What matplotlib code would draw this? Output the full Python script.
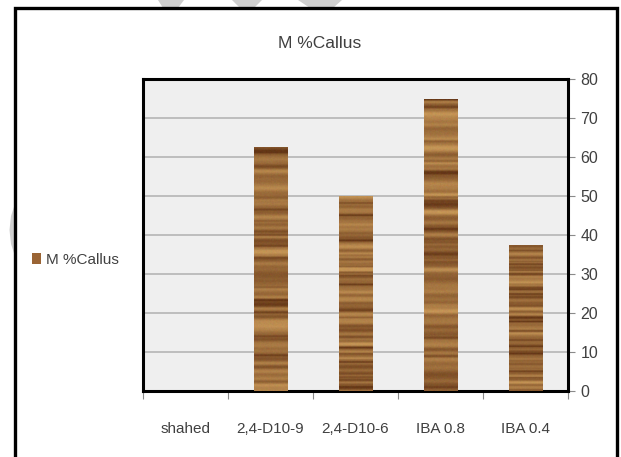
import numpy as np
import matplotlib.pyplot as plt
from matplotlib.patches import Rectangle, Patch, Polygon

plt.rcParams['font.family'] = ['Liberation Sans', 'DejaVu Sans']

categories = ['shahed', '2,4-D10-9', '2,4-D10-6', 'IBA 0.8', 'IBA 0.4']
callus = [0, 62.5, 50, 75, 37.5]
yticks = [0, 10, 20, 30, 40, 50, 60, 70, 80]
series_name = 'M %Callus'

text_col = '#404040'
W, H = 621, 457


def wood_texture(rng, rows=320, cols=40):
    # horizontal grain: smoothed noise per row with a few dark rings
    base = rng.normal(0, 1, rows + 40)
    kern = np.exp(-0.5 * (np.arange(-6, 7) / 2.0) ** 2)
    grain = np.convolve(base, kern / kern.sum(), mode='same')[20:20 + rows]
    grain = grain / grain.std()
    dark = (rng.random(rows) < 0.05).astype(float)
    dark = np.convolve(dark, np.array([0.4, 1, 1, 0.4]), mode='same')
    shade = np.clip(0.55 + 0.2 * grain - 0.3 * dark, 0, 1)
    light = np.array([196, 148, 86]) / 255
    deep = np.array([100, 54, 22]) / 255
    img = deep + (light - deep) * shade[:, None]
    img = np.repeat(img[:, None, :], cols, axis=1)
    img += rng.normal(0, 0.015, img.shape)
    return np.clip(img, 0, 1)


def px(pts):
    return [(u / W, 1 - v / H) for u, v in pts]


fig = plt.figure(figsize=(W / 100, H / 100), dpi=100)

# faint gray marks behind the frame
wm = '#cfcfcf'
for pts in ([(158, 0), (184, 0), (178, 8), (163, 8)],
            [(232, 0), (262, 0), (254, 8), (240, 8)],
            [(298, 0), (342, 0), (333, 8), (310, 8)],
            [(15, 204), (11, 216), (9.5, 230), (11, 244), (15, 256)]):
    fig.add_artist(Polygon(px(pts), closed=True, transform=fig.transFigure,
                           facecolor=wm, edgecolor='none', zorder=0))

ax = fig.add_axes([143 / W, 1 - 391 / H, 425 / W, 312 / H])
ax.set_facecolor('#efefef')

x = np.arange(len(categories))
bars = ax.bar(x, callus, width=0.4, color='none', edgecolor='none', zorder=3)

rng = np.random.default_rng(11)
for rect in bars:
    h = rect.get_height()
    if h <= 0:
        continue
    x0 = rect.get_x()
    im = ax.imshow(wood_texture(rng), extent=(x0, x0 + rect.get_width(), 0, h),
                   aspect='auto', interpolation='bilinear', zorder=3)
    im.set_clip_path(rect)

ax.set_xlim(-0.5, len(categories) - 0.5)
ax.set_ylim(0, 80)
ax.set_yticks(yticks)
ax.yaxis.tick_right()
ax.grid(axis='y', color='#bdbdbd', linewidth=1.4, zorder=1)
ax.set_axisbelow(True)
ax.tick_params(axis='y', length=5, width=0.8, color='#8a8a8a', labelsize=11.5,
               labelcolor=text_col, pad=4)

# category labels sit between the boundary tick marks
ax.set_xticks(np.arange(len(categories) + 1) - 0.5)
ax.set_xticklabels([])
ax.set_xticks(x, minor=True)
ax.set_xticklabels(categories, minor=True)
ax.tick_params(axis='x', which='major', length=6, width=0.8, color='#8a8a8a')
ax.tick_params(axis='x', which='minor', length=0, labelsize=11,
               labelcolor=text_col, pad=22)

for s in ax.spines.values():
    s.set_linewidth(2.2)
    s.set_color('black')

fig.text(320 / W, 1 - 43 / H, series_name, ha='center', va='center',
         fontsize=12.5, color=text_col)

fig.legend(handles=[Patch(facecolor='#9a6434', edgecolor='none', label=series_name)],
           loc='center left', bbox_to_anchor=(0.03, 1 - 260 / H), frameon=False,
           handlelength=0.55, handleheight=0.7, handletextpad=0.35,
           prop={'size': 11}, labelcolor=text_col)

# chart frame
fig.add_artist(Rectangle((15 / W, -0.05), 602 / W, 1.05 - 8 / H,
                         transform=fig.transFigure, fill=False,
                         edgecolor='black', linewidth=2.4, zorder=5))

fig.savefig('out.png', dpi=100, facecolor='white')
